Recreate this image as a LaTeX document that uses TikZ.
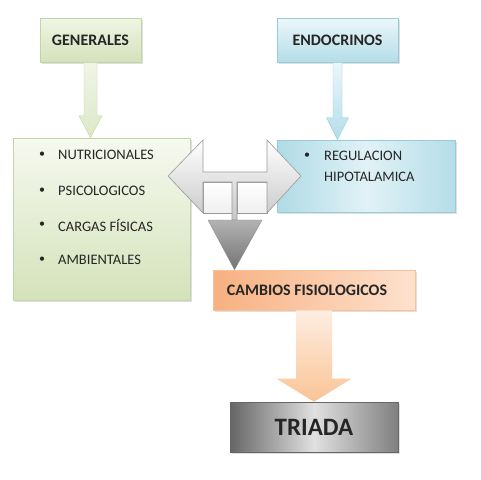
\documentclass[tikz,border=0pt]{standalone}
\usepackage{fontspec}
\setmainfont{Carlito}
\usetikzlibrary{calc,shadows}
\definecolor{gentop}{RGB}{240,245,229}
\definecolor{genbot}{RGB}{212,226,186}
\definecolor{genedge}{RGB}{196,212,166}
\definecolor{endotop}{RGB}{236,247,250}
\definecolor{endobot}{RGB}{180,221,232}
\definecolor{endoedge}{RGB}{150,204,220}
\definecolor{orgleft}{RGB}{247,176,128}
\definecolor{orgright}{RGB}{253,226,206}
\definecolor{orgarrow}{RGB}{250,196,150}
\definecolor{txtgray}{RGB}{38,38,38}
\newcommand{\downblock}[6]{% from, to, half shaft, half head, head length, style
  \path[#6] let \p1=(#1), \p2=(#2) in
    (\x1-#3pt,\y1) -- (\x1+#3pt,\y1) -- (\x1+#3pt,\y2+#5pt) -- (\x1+#4pt,\y2+#5pt)
    -- (\x1,\y2) -- (\x1-#4pt,\y2+#5pt) -- (\x1-#3pt,\y2+#5pt) -- cycle;}

\begin{document}
\begin{tikzpicture}[x=1pt,y=-1pt,text=txtgray,
  box/.style={draw,line width=0.6pt,inner sep=0pt,
    drop shadow={shadow xshift=1.5pt,shadow yshift=-2pt,opacity=0.25}},
  head/.style={font=\bfseries\fontsize{16}{18}\selectfont},
  item/.style={anchor=west,inner sep=0pt,font=\fontsize{14.5}{17}\selectfont},
  dot/.style={inner sep=0pt,font=\fontsize{12}{12}\selectfont},
  tpart/.style={draw=black!40,line width=0.6pt,top color=white,bottom color=black!22}]
  \useasboundingbox[fill=white] (0,0) rectangle (481,479);

  % top boxes
  \node[box,head,draw=genedge,top color=gentop,bottom color=genbot,
        minimum width=101pt,minimum height=44pt] (gen) at (90.5,40) {GENERALES};
  \node[box,head,draw=endoedge,top color=endotop,bottom color=endobot,
        minimum width=121pt,minimum height=44pt] (endo) at (337.5,40) {ENDOCRINOS};

  % middle boxes
  \node[box,draw=genedge,top color=gentop!60!white,bottom color=genbot,
        minimum width=177pt,minimum height=162pt] (list) at (101.5,219) {};
  \node[box,draw=endoedge,left color=endobot!85!endoedge,right color=endobot,
        middle color=endotop!80!endobot,minimum width=178pt,minimum height=72pt] (regul) at (366,176) {};

  \foreach \txt/\y in {NUTRICIONALES/155, PSICOLOGICOS/191, CARGAS FÍSICAS/225, AMBIENTALES/260}{
    \node[dot] (b\y) at (42,\y) {\textbullet};
    \node[item] (t\y) at (58,\y) {\txt};
  }
  \node[dot] (bregul) at (307,156) {\textbullet};
  \node[item] (tregul1) at (324,156) {REGULACION};
  \node[item] (tregul2) at (324,177) {HIPOTALAMICA};

  % bottom boxes
  \node[box,head,draw=orgleft!80!white,left color=orgleft,right color=orgright,
        minimum width=202pt,minimum height=40pt] (cambios) at (314,290) {\hspace*{-14pt}CAMBIOS FISIOLOGICOS};
  \node[box,draw=gray!80!black,left color=black!60,right color=black!50,middle color=black!12,
        minimum width=168pt,minimum height=50pt,
        font=\bfseries\fontsize{25}{28}\selectfont,text=black!85] (triada) at (314,427) {TRIADA};

  % block arrows
  \downblock{gen.south}{list.north}{6.5}{11.5}{22}{draw=genedge,top color=gentop,bottom color=genbot!80!white}
  \downblock{endo.south}{regul.north}{4.5}{11}{22}{draw=endoedge,top color=endotop,bottom color=endobot}
  \downblock{cambios.south}{triada.north}{18}{37.5}{23}{top color=orgright!60!white,bottom color=orgarrow}

  % T arrow between the middle boxes
  \coordinate (hub) at (234.5,177);
  \draw[tpart,bottom color=black!6] (203,182) rectangle (232,213);
  \draw[tpart,bottom color=black!6] (237,182) rectangle (267,213);
  \draw[tpart]
    (168,176) -- (203,140) -- (203,172) -- (267,172) -- (267,140) -- (301,176)
    -- (267,213) -- (267,182) -- (237,182) -- (237,220) -- (232,220) -- (232,182)
    -- (203,182) -- (203,213) -- cycle;
  \draw[draw=black!45,top color=black!30,bottom color=black!55]
    (208,220) -- (262,220) -- (hub |- cambios.north) -- cycle;
\end{tikzpicture}
\end{document}
